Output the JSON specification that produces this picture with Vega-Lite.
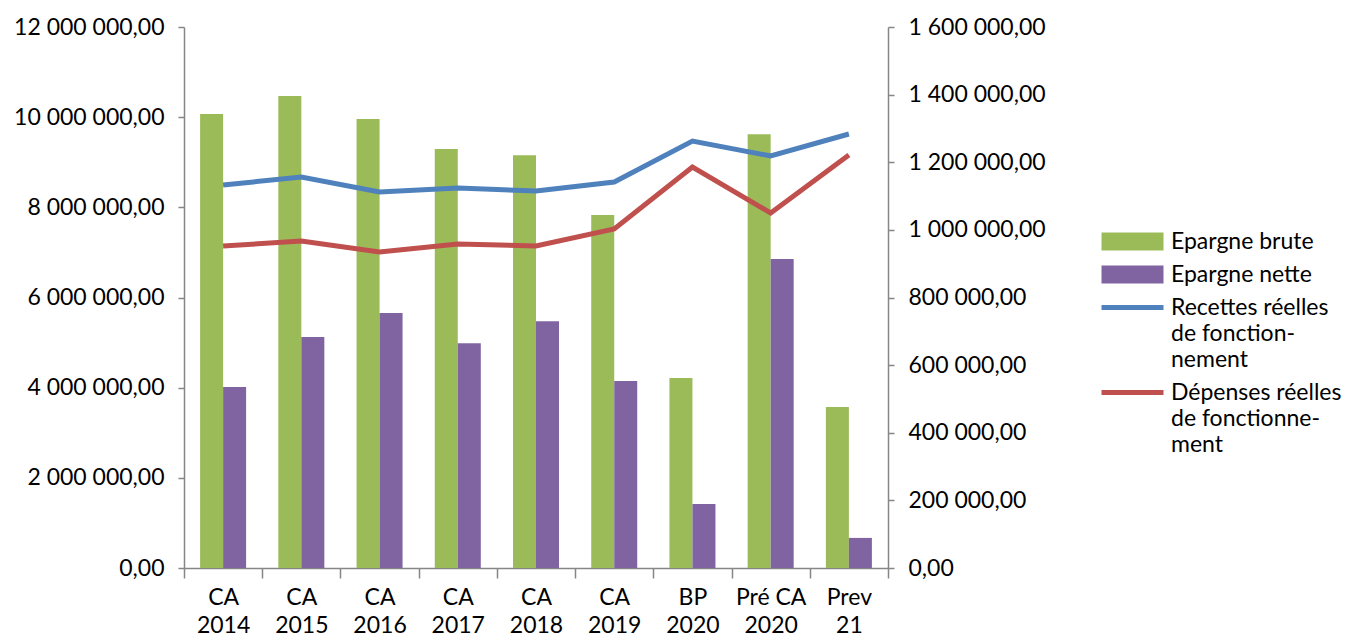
{
  "$schema": "https://vega.github.io/schema/vega-lite/v6.json",
  "autosize": {"type": "none"},
  "padding": {"left": 184, "top": 27, "right": 471, "bottom": 66},
  "width": 704,
  "height": 541,
  "background": "white",
  "config": {
    "font": "Lato",
    "view": {"stroke": null},
    "locale": {"number": {"decimal": ",", "thousands": " ", "grouping": [3], "currency": ["", " €"]}},
    "axis": {"labelFont": "Lato", "labelFontSize": 23, "labelColor": "#000000", "domainColor": "#868686", "tickColor": "#868686", "domainWidth": 1.5, "tickWidth": 1.5, "grid": false, "title": null}
  },
  "data": {"values": [
    {"cat": "CA 2014", "serie": "Epargne brute", "value": 1343000},
    {"cat": "CA 2015", "serie": "Epargne brute", "value": 1396000},
    {"cat": "CA 2016", "serie": "Epargne brute", "value": 1328000},
    {"cat": "CA 2017", "serie": "Epargne brute", "value": 1239000},
    {"cat": "CA 2018", "serie": "Epargne brute", "value": 1221000},
    {"cat": "CA 2019", "serie": "Epargne brute", "value": 1044000},
    {"cat": "BP 2020", "serie": "Epargne brute", "value": 562000},
    {"cat": "Pré CA 2020", "serie": "Epargne brute", "value": 1283000},
    {"cat": "Prev 21", "serie": "Epargne brute", "value": 476000},
    {"cat": "CA 2014", "serie": "Epargne nette", "value": 535000},
    {"cat": "CA 2015", "serie": "Epargne nette", "value": 683000},
    {"cat": "CA 2016", "serie": "Epargne nette", "value": 754000},
    {"cat": "CA 2017", "serie": "Epargne nette", "value": 665000},
    {"cat": "CA 2018", "serie": "Epargne nette", "value": 730000},
    {"cat": "CA 2019", "serie": "Epargne nette", "value": 553000},
    {"cat": "BP 2020", "serie": "Epargne nette", "value": 189000},
    {"cat": "Pré CA 2020", "serie": "Epargne nette", "value": 914000},
    {"cat": "Prev 21", "serie": "Epargne nette", "value": 89000},
    {"cat": "CA 2014", "serie": "Recettes réelles de fonctionnement", "value": 8495000},
    {"cat": "CA 2015", "serie": "Recettes réelles de fonctionnement", "value": 8673000},
    {"cat": "CA 2016", "serie": "Recettes réelles de fonctionnement", "value": 8340000},
    {"cat": "CA 2017", "serie": "Recettes réelles de fonctionnement", "value": 8429000},
    {"cat": "CA 2018", "serie": "Recettes réelles de fonctionnement", "value": 8362000},
    {"cat": "CA 2019", "serie": "Recettes réelles de fonctionnement", "value": 8562000},
    {"cat": "BP 2020", "serie": "Recettes réelles de fonctionnement", "value": 9471000},
    {"cat": "Pré CA 2020", "serie": "Recettes réelles de fonctionnement", "value": 9139000},
    {"cat": "Prev 21", "serie": "Recettes réelles de fonctionnement", "value": 9627000},
    {"cat": "CA 2014", "serie": "Dépenses réelles de fonctionnement", "value": 7142000},
    {"cat": "CA 2015", "serie": "Dépenses réelles de fonctionnement", "value": 7253000},
    {"cat": "CA 2016", "serie": "Dépenses réelles de fonctionnement", "value": 7009000},
    {"cat": "CA 2017", "serie": "Dépenses réelles de fonctionnement", "value": 7187000},
    {"cat": "CA 2018", "serie": "Dépenses réelles de fonctionnement", "value": 7142000},
    {"cat": "CA 2019", "serie": "Dépenses réelles de fonctionnement", "value": 7519000},
    {"cat": "BP 2020", "serie": "Dépenses réelles de fonctionnement", "value": 8895000},
    {"cat": "Pré CA 2020", "serie": "Dépenses réelles de fonctionnement", "value": 7874000},
    {"cat": "Prev 21", "serie": "Dépenses réelles de fonctionnement", "value": 9161000}
  ]},
  "encoding": {
    "x": {
      "field": "cat", "type": "nominal", "sort": null,
      "scale": {"paddingInner": 0, "paddingOuter": 0},
      "axis": {
        "labelAngle": 0, "labelAlign": "center", "labelBaseline": "top",
        "tickBand": "extent", "tickSize": 10, "labelPadding": 8, "labelLineHeight": 28,
        "labelExpr": "[slice(datum.label, 0, lastindexof(datum.label, ' ')), slice(datum.label, lastindexof(datum.label, ' ') + 1)]"
      }
    },
    "color": {
      "field": "serie", "type": "nominal",
      "scale": {
        "domain": ["Epargne brute", "Epargne nette", "Recettes réelles de fonctionnement", "Dépenses réelles de fonctionnement"],
        "range": ["#9BBB59", "#8064A2", "#4F81BD", "#C0504D"]
      },
      "legend": {
        "title": null, "orient": "none", "legendX": 937, "legendY": 203,
        "labelFont": "Lato", "labelFontSize": 23, "labelColor": "#000000", "labelLimit": 300,
        "labelOffset": 27, "rowPadding": 9, "symbolSize": 400, "symbolStrokeWidth": 0,
        "labelExpr": "datum.label == 'Recettes réelles de fonctionnement' ? ['Recettes réelles', 'de fonction-', 'nement'] : datum.label == 'Dépenses réelles de fonctionnement' ? ['Dépenses réelles', 'de fonctionne-', 'ment'] : datum.label",
        "encode": {
          "labels": {"update": {"lineHeight": {"value": 26}}},
          "symbols": {"update": {
            "shape": {"signal": "datum.value == 'Epargne brute' || datum.value == 'Epargne nette' ? 'M-3.1,-0.9H3.1V0.9H-3.1Z' : 'M-3.1,-0.25H3.1V0.25H-3.1Z'"},
            "fill": {"scale": "color", "field": "value"},
            "fillOpacity": {"value": 1},
            "opacity": {"value": 1},
            "strokeWidth": {"value": 0}
          }}
        }
      }
    }
  },
  "layer": [
    {
      "transform": [{"filter": "datum.serie == 'Epargne brute' || datum.serie == 'Epargne nette'"}],
      "mark": {"type": "bar"},
      "encoding": {
        "xOffset": {"field": "serie", "type": "nominal", "scale": {"domain": ["Epargne brute", "Epargne nette"], "paddingInner": 0, "paddingOuter": 0.7}},
        "y": {
          "field": "value", "type": "quantitative",
          "scale": {"domain": [0, 1600000], "nice": false},
          "axis": {"orient": "right", "values": [0, 200000, 400000, 600000, 800000, 1000000, 1200000, 1400000, 1600000], "format": ",.2f", "tickSize": 6, "labelPadding": 14}
        }
      }
    },
    {
      "transform": [{"filter": "datum.serie != 'Epargne brute' && datum.serie != 'Epargne nette'"}],
      "mark": {"type": "line", "strokeWidth": 5},
      "encoding": {
        "x": {"field": "cat", "type": "nominal", "sort": null, "bandPosition": 0.5},
        "y": {
          "field": "value", "type": "quantitative",
          "scale": {"domain": [0, 12000000], "nice": false},
          "axis": {"orient": "left", "values": [0, 2000000, 4000000, 6000000, 8000000, 10000000, 12000000], "format": ",.2f", "tickSize": 6, "labelPadding": 14}
        }
      }
    }
  ],
  "resolve": {"scale": {"y": "independent"}}
}
